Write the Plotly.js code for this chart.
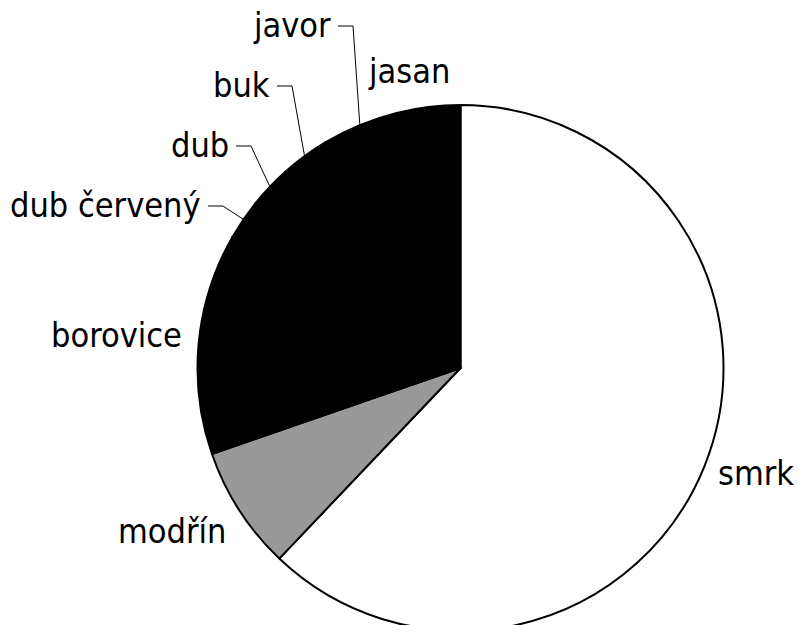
<!DOCTYPE html>
<html>
<head>
<meta charset="utf-8">
<script src="https://cdn.plot.ly/plotly-3.0.1.min.js"></script>
<style>
html,body{margin:0;padding:0;overflow:hidden;background:#fff;}
#chart{width:799px;height:640px;}
</style>
</head>
<body>
<div id="chart"></div>
<script>
// ---- data ----
const categories = ['smrk', 'modřín', 'borovice', 'dub červený', 'dub', 'buk', 'javor', 'jasan'];
const shares = [62.1, 7.6, 13.6, 2.5, 2.6, 3.0, 4.7, 3.9];
const sliceColors = ['#ffffff', '#999999', '#000000', '#000000', '#000000', '#000000', '#000000', '#000000'];

// ---- layout / style (pixels) ----
const W = 799, H = 640;
const PIE = {cx: 460.5, cy: 368, r: 263};
const FONT = {family: 'DejaVu Sans Condensed, DejaVu Sans, sans-serif', size: 34, color: '#000'};
// label placement: x = anchor x, base = text baseline, anchor = text anchor, leader = draw leader line
const labelPlace = {
  'smrk':        {x: 756,   base: 485, anchor: 'center', leader: false},
  'modřín':      {x: 172,   base: 543, anchor: 'center', leader: false},
  'borovice':    {x: 116.5, base: 347, anchor: 'center', leader: false},
  'dub červený': {x: 203,   base: 217, anchor: 'right',  leader: true},
  'dub':         {x: 231,   base: 157, anchor: 'right',  leader: true},
  'buk':         {x: 272,   base: 97,  anchor: 'right',  leader: true},
  'javor':       {x: 333,   base: 37,  anchor: 'right',  leader: true},
  'jasan':       {x: 408.5, base: 83,  anchor: 'center', leader: false}
};
const LEADER_GAP = 5, LEADER_LEN = 15, LEADER_RISE = 11, TEXT_MID = 12;

const total = shares.reduce((a, b) => a + b, 0);
let cum = 0;
const annotations = [];
const leaderX = [], leaderY = [];
categories.forEach((c, i) => {
  const mid = (cum + shares[i] / 2) / total * 2 * Math.PI;
  cum += shares[i];
  const p = labelPlace[c];
  annotations.push({
    x: p.x, y: p.base - TEXT_MID, xref: 'x', yref: 'y',
    text: c, showarrow: false, xanchor: p.anchor, yanchor: 'middle',
    font: FONT
  });
  if (p.leader) {
    const ex = PIE.cx + PIE.r * Math.sin(mid);
    const ey = PIE.cy - PIE.r * Math.cos(mid);
    const ly = p.base - LEADER_RISE;
    leaderX.push(ex, p.x + LEADER_GAP + LEADER_LEN, p.x + LEADER_GAP, null);
    leaderY.push(ey, ly, ly, null);
  }
});

const pieTrace = {
  type: 'pie',
  labels: categories,
  values: shares,
  sort: false,
  direction: 'clockwise',
  rotation: 0,
  textinfo: 'none',
  hoverinfo: 'label+percent',
  showlegend: false,
  marker: {colors: sliceColors, line: {color: '#000', width: 2}},
  domain: {
    x: [(PIE.cx - PIE.r) / W, (PIE.cx + PIE.r) / W],
    y: [1 - (PIE.cy + PIE.r) / H, 1 - (PIE.cy - PIE.r) / H]
  }
};

const leaderTrace = {
  type: 'scatter', mode: 'lines',
  x: leaderX, y: leaderY,
  line: {color: '#000', width: 1},
  hoverinfo: 'skip', showlegend: false
};

const layout = {
  width: W, height: H,
  margin: {l: 0, r: 0, t: 0, b: 0, pad: 0},
  paper_bgcolor: '#fff', plot_bgcolor: 'rgba(0,0,0,0)',
  showlegend: false,
  xaxis: {range: [0, W], visible: false, fixedrange: true, domain: [0, 1]},
  yaxis: {range: [H, 0], visible: false, fixedrange: true, domain: [0, 1]},
  annotations: annotations,
  font: FONT
};

Plotly.newPlot('chart', [leaderTrace, pieTrace], layout, {staticPlot: true, displayModeBar: false});
</script>
</body>
</html>
